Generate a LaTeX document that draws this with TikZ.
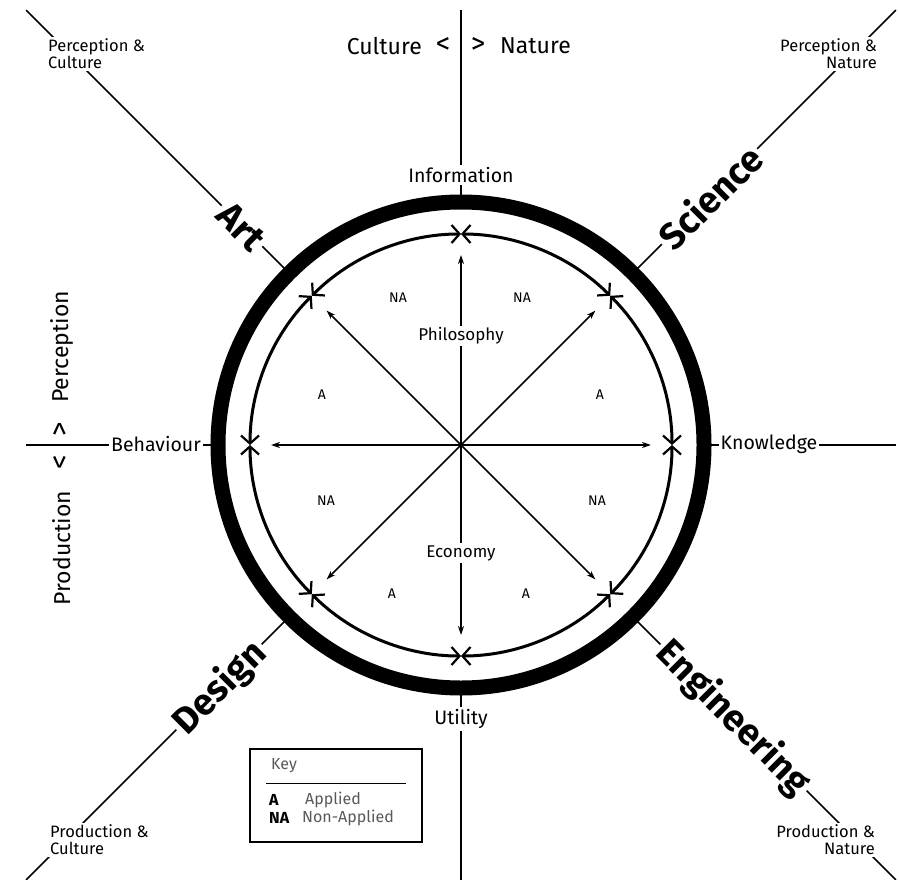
\documentclass[tikz,border=0pt]{standalone}
\usepackage{fontspec}
\setmainfont{Fira Sans}
\usetikzlibrary{arrows.meta,calc}
\definecolor{keygray}{gray}{0.35}
\begin{document}
\begin{tikzpicture}[x=1pt,y=-1pt,
  ax/.style={line width=1.7pt},
  thick ring/.style={line width=15pt},
  inner ring/.style={line width=3pt,
    {Straight Barb[length=8pt,width=18pt,line width=2.2pt]}-{Straight Barb[length=8pt,width=18pt,line width=2.2pt]}},
  radial/.style={line width=1.5pt,-{Stealth[length=9pt,width=6pt]}},
  axlabel/.style={font=\fontsize{19.5}{21}\selectfont, fill=white, inner sep=2pt},
  sidetext/.style={font=\fontsize{23}{25}\selectfont, inner sep=1pt},
  chev/.style={font=\fontsize{29}{30}\selectfont, inner sep=0pt},
  bigtext/.style={font=\fontsize{37}{40}\selectfont\bfseries, fill=white, inner sep=3pt},
  corner/.style={font=\fontsize{16.5}{17}\selectfont, fill=white, inner sep=2pt},
  sector/.style={font=\fontsize{14}{15}\selectfont, inner sep=1pt},
  midlabel/.style={font=\fontsize{17}{19}\selectfont, fill=white, inner sep=2pt},
  keytext/.style={font=\fontsize{16}{17}\selectfont, inner sep=0pt, anchor=west},
]
\fill[white] (0,0) rectangle (899,880);
\useasboundingbox (0,0) rectangle (899,880);

\coordinate (C) at (461,445);
\foreach \k in {0,...,7} {
  \coordinate (I\k) at ($(C)+(\k*45:211)$);
  \coordinate (R\k) at ($(C)+(\k*45:190)$);
  \coordinate (O\k) at ($(C)+(\k*45:249)$);
}
\foreach \k in {0,2,4,6} { \coordinate (E\k) at ($(C)+(\k*45:435)$); }
\foreach \k in {1,3,5,7} { \coordinate (E\k) at ($(C)+(\k*45:615)$); }

% axis and diagonal lines
\foreach \k in {0,...,7} { \draw[ax] (E\k) -- (O\k); }

% thick ring
\draw[thick ring] (C) circle[radius=243];

% inner ring arcs with arrows at both ends
\foreach \k in {0,...,7} {
  \draw[inner ring] (I\k) arc[start angle=\k*45, end angle=\k*45+45, radius=211];
}

% radial arrows
\foreach \k in {0,...,7} { \draw[radial] (C) -- (R\k); }

% labels on axes
\node[axlabel] (info) at (461,175) {Information};
\node[axlabel] (util) at (461,719) {Utility};
\node[axlabel] (behav) at (156,444) {Behaviour};
\node[axlabel] (know) at (769,444) {Knowledge};

% centre labels
\node[midlabel] (philo) at (461,336) {Philosophy};
\node[midlabel] (econ) at (461,553) {Economy};

% sector labels
\node[sector] (s1) at (398,298) {NA};
\node[sector] (s2) at (522,298) {NA};
\node[sector] (s3) at (322,395) {A};
\node[sector] (s4) at (600,395) {A};
\node[sector] (s5) at (326,501) {NA};
\node[sector] (s6) at (597,501) {NA};
\node[sector] (s7) at (392,594) {A};
\node[sector] (s8) at (526,594) {A};

% big diagonal labels
\node[bigtext, rotate=-45] (art) at (241,227) {Art};
\node[bigtext, rotate=45] (sci) at (710,197) {Science};
\node[bigtext, rotate=45] (des) at (220,688) {Design};
\node[bigtext, rotate=-45] (eng) at (733,718) {Engineering};

% corner labels
\node[corner, anchor=west, align=left] (pc) at (46,54) {Perception \&\\Culture};
\node[corner, anchor=east, align=right] (pn) at (879,54) {Perception \&\\Nature};
\node[corner, anchor=west, align=left] (prc) at (48,840) {Production \&\\Culture};
\node[corner, anchor=east, align=right] (prn) at (877,840) {Production \&\\Nature};

% top text
\node[sidetext, anchor=east] (cult) at (423,46) {Culture};
\node[chev] (lt) at (443,46) {<};
\node[chev] (gt) at (478,46) {>};
\node[sidetext, anchor=west] (nat) at (499,46) {Nature};

% left text
\node[sidetext, rotate=90] (perc) at (62,347) {Perception};
\node[chev, rotate=90] (gt2) at (62,429) {>};
\node[chev, rotate=90] (lt2) at (62,462) {<};
\node[sidetext, rotate=90] (prod) at (62,548) {Production};

% key
\node[draw, line width=1.2pt, minimum width=172pt, minimum height=93pt, inner sep=0pt] (key) at (336,795.5) {};
\node[keytext, text=keygray] (keyt) at (271,766) {Key};
\draw[line width=1.2pt] ($(key.west)+(17,-12)$) coordinate (k1) -- ($(key.east)+(-17,-12)$) coordinate (k2);
\node[keytext, font=\fontsize{16}{17}\selectfont\bfseries] (ka) at (269,800) {A};
\node[keytext, text=keygray] (kat) at (305,800) {Applied};
\node[keytext, font=\fontsize{16}{17}\selectfont\bfseries] (kna) at (269,818) {NA};
\node[keytext, text=keygray] (knat) at (302,818) {Non-Applied};
\end{tikzpicture}
\end{document}
